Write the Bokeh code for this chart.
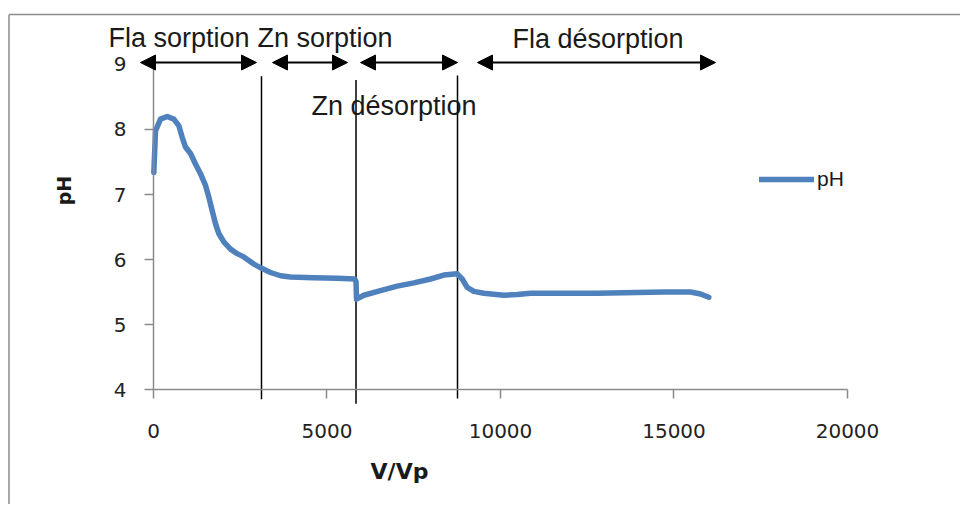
from bokeh.plotting import figure
from bokeh.models import (Range1d, LinearAxis, FixedTicker, Arrow, NormalHead,
                          ColumnDataSource, Label, Legend, LegendItem)
from bokeh.core.properties import value
from bokeh.embed import file_html
from bokeh.resources import INLINE

# ---- data -------------------------------------------------------------
v_vp = [10, 58, 202, 395, 585, 729, 827, 922, 1066, 1210, 1354, 1499, 1594, 1692,
        1787, 1882, 2026, 2219, 2412, 2602, 2890, 3133, 3372, 3660, 3948, 4600,
        5300, 5800, 5836, 5850, 6061, 6542, 7022, 7502, 7983, 8367, 8752, 8896,
        9040, 9231, 9519, 10095, 10481, 10865, 12787, 14706, 15476, 15764, 16003]
ph = [7.34, 7.98, 8.16, 8.20, 8.16, 8.06, 7.88, 7.73, 7.63, 7.47, 7.32, 7.14, 6.96, 6.75,
      6.55, 6.40, 6.27, 6.16, 6.09, 6.04, 5.93, 5.86, 5.80, 5.75, 5.73, 5.72,
      5.71, 5.70, 5.66, 5.39, 5.45, 5.52, 5.59, 5.64, 5.70, 5.76, 5.78, 5.70,
      5.57, 5.51, 5.48, 5.45, 5.46, 5.48, 5.48, 5.50, 5.50, 5.47, 5.42]

phases = ["Fla sorption", "Zn sorption", "Zn désorption", "Fla désorption"]
phase_bounds = [3112, 5836, 8761]

x_ticks = [0, 5000, 10000, 15000, 20000]
y_ticks = [4, 5, 6, 7, 8, 9]

# ---- annotation layout (data coordinates) -----------------------------
text_x = [-1297, 2997, 4553, 10346]
text_y = [9.40, 9.40, 8.355, 9.39]
arrow_x0 = [-375, 3429, 5965, 9337]
arrow_x1 = [2968, 5591, 8761, 16196]
arrow_y = [9.03, 9.03, 9.03, 9.03]
bound_top = [8.82, 8.76, 8.83]
bound_bottom = [3.85, 3.78, 3.86]

X0, X1 = -4409.2, 23256.5
Y0, Y1 = 2.2308, 9.9846
p = figure(width=960, height=504, output_backend="svg", toolbar_location=None,
           x_range=Range1d(X0, X1), y_range=Range1d(Y0, Y1),
           x_axis_type=None, y_axis_type=None, min_border=0)
p.outline_line_color = None
p.background_fill_color = "white"
p.border_fill_color = "white"

# chart border (only its left and top edges fall inside the picture)
bx = X0 + 8.5 / 0.0347
by = Y1 - 14 / 65
p.segment(x0=[bx, bx], y0=[by, by], x1=[bx, X1], y1=[Y0, by],
          line_color="#8c8c8c", line_width=1.5)

AXIS_COLOR = "#8a8a8a"
xaxis = LinearAxis(fixed_location=4, bounds=(0, 20000), ticker=FixedTicker(ticks=x_ticks))
yaxis = LinearAxis(fixed_location=0, bounds=(4, 9), ticker=FixedTicker(ticks=y_ticks))
for ax in (xaxis, yaxis):
    ax.axis_line_color = AXIS_COLOR
    ax.axis_line_width = 1.5
    ax.major_tick_line_color = AXIS_COLOR
    ax.major_tick_line_width = 1.5
    ax.major_tick_out = 9
    ax.major_tick_in = 0
    ax.minor_tick_line_color = None
    ax.major_label_text_font = "DejaVu Sans"
    ax.major_label_text_font_size = "20px"
    ax.major_label_text_color = "#222222"
xaxis.major_label_standoff = 25
yaxis.major_label_standoff = 18
p.add_layout(xaxis, "below")
p.add_layout(yaxis, "left")

# phase boundaries
p.segment(x0=phase_bounds, y0=bound_bottom, x1=phase_bounds, y1=bound_top,
          line_color="black", line_width=1.5)

# pH series
r = p.line(v_vp, ph, line_color="#4F81BD", line_width=5.5, line_join="round", line_cap="round")

# arrows
asrc = ColumnDataSource(dict(x0=arrow_x0, x1=arrow_x1, y=arrow_y))
p.add_layout(Arrow(start=NormalHead(size=15, fill_color="black", line_color="black"),
                   end=NormalHead(size=15, fill_color="black", line_color="black"),
                   x_start="x0", y_start="y", x_end="x1", y_end="y", source=asrc,
                   line_color="black", line_width=2))

# phase names
tsrc = ColumnDataSource(dict(x=text_x, y=text_y, t=phases))
p.text(x="x", y="y", text="t", source=tsrc, text_font=value("Liberation Sans"),
       text_font_size="27px", text_color="#1a1a1a", text_align="left",
       text_baseline="alphabetic")

# axis titles
p.add_layout(Label(x=7089, y=2.738, text="V/Vp", text_font="DejaVu Sans",
                   text_font_style="bold", text_font_size="22px", text_color="#1a1a1a",
                   text_align="center", text_baseline="middle"))
p.add_layout(Label(x=-2565, y=7.06, text="pH", angle=1.5708, text_font="DejaVu Sans",
                   text_font_style="bold", text_font_size="19px", text_color="#1a1a1a",
                   text_align="center", text_baseline="middle"))

legend = Legend(items=[LegendItem(label="pH", renderers=[r])], location=(759, 313),
                glyph_width=55, glyph_height=20, label_height=20, label_standoff=3,
                padding=0, margin=0, border_line_color=None, background_fill_alpha=0,
                label_text_font="Liberation Sans", label_text_font_size="21px",
                label_text_color="#1a1a1a")
p.add_layout(legend)

open("out.html", "w").write(file_html(p, INLINE))
